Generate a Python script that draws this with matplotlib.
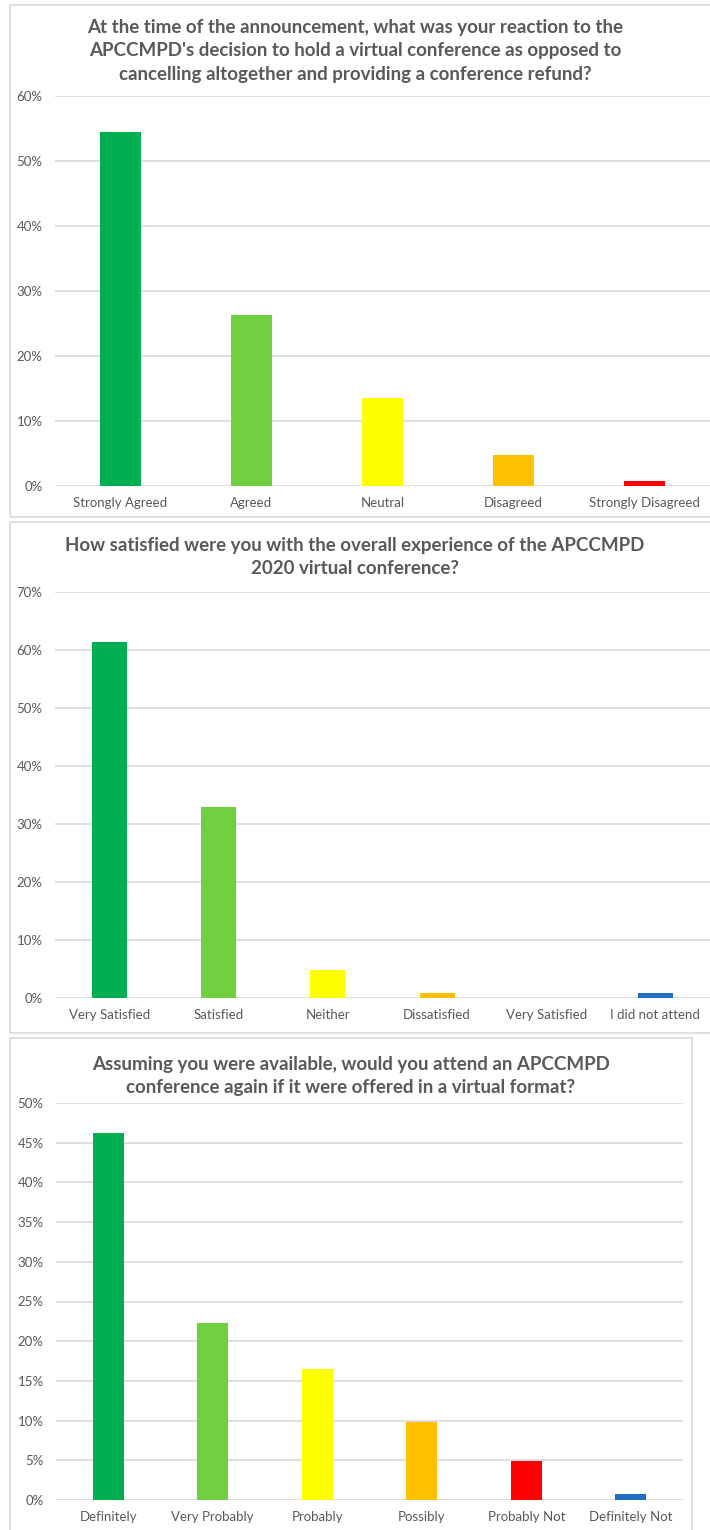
import matplotlib
matplotlib.use("Agg")
import matplotlib.pyplot as plt
from matplotlib.patches import Rectangle
from matplotlib.ticker import FuncFormatter, MultipleLocator

# survey answers (share of respondents, %)
q1_title = ("At the time of the announcement, what was your reaction to the\n"
            "APCCMPD's decision to hold a virtual conference as opposed to\n"
            "cancelling altogether and providing a conference refund?")
q1_labels = ["Strongly Agreed", "Agreed", "Neutral", "Disagreed", "Strongly Disagreed"]
q1_values = [54.5, 26.3, 13.5, 4.7, 0.8]
q1_colors = ["#00B050", "#70D040", "#FFFF00", "#FFC000", "#FF0000"]

q2_title = ("How satisfied were you with the overall experience of the APCCMPD\n"
            "2020 virtual conference?")
q2_labels = ["Very Satisfied", "Satisfied", "Neither", "Dissatisfied", "Very Satisfied",
             "I did not attend"]
q2_values = [61.3, 33.0, 4.8, 0.8, 0.0, 0.8]
q2_colors = ["#00B050", "#70D040", "#FFFF00", "#FFC000", "#FF0000", "#1F6FC6"]

q3_title = ("Assuming you were available, would you attend an APCCMPD\n"
            "conference again if it were offered in a virtual format?")
q3_labels = ["Definitely", "Very Probably", "Probably", "Possibly", "Probably Not",
             "Definitely Not"]
q3_values = [46.2, 22.3, 16.5, 9.8, 4.9, 0.8]
q3_colors = ["#00B050", "#70D040", "#FFFF00", "#FFC000", "#FF0000", "#1F6FC6"]

plt.rcParams['font.family'] = ['Lato', 'DejaVu Sans']

W, H = 710, 1530
fig = plt.figure(figsize=(W / 100, H / 100), dpi=100)
fig.patch.set_facecolor("white")

GRID = "#D9D9D9"
TXT = "#595959"


def px_box(x0, y0, x1, y1):
    # pixel coords (top-left origin) -> figure fraction rect
    return [x0 / W, 1 - y1 / H, (x1 - x0) / W, (y1 - y0) / H]


def panel(box, ax_px, title, title_y, labels, values, colors, ymax, step, barw):
    bx0, by0, bx1, by1 = box
    fig.patches.append(Rectangle((bx0 / W, 1 - by1 / H), (bx1 - bx0) / W, (by1 - by0) / H,
                                 transform=fig.transFigure, facecolor="none",
                                 edgecolor=GRID, linewidth=1.2, zorder=0))
    ax = fig.add_axes(px_box(*ax_px))
    ax.set_facecolor("none")
    x = range(len(labels))
    ax.bar(x, values, width=barw, color=colors, zorder=3)
    ax.set_xlim(-0.5, len(labels) - 0.5)
    ax.set_ylim(0, ymax)
    ax.yaxis.set_major_locator(MultipleLocator(step))
    ax.yaxis.set_major_formatter(FuncFormatter(lambda v, p: "%d%%" % round(v)))
    ax.grid(axis="y", color=GRID, linewidth=1.2, zorder=0)
    for s in ax.spines.values():
        s.set_visible(False)
    ax.tick_params(axis="both", length=0, colors=TXT, labelsize=9.5)
    ax.tick_params(axis="y", pad=9)
    ax.tick_params(axis="x", pad=8)
    ax.set_xticks(list(x))
    ax.set_xticklabels(labels)
    cx = (bx0 + bx1) / 2 if bx1 < 700 else 355
    fig.text(cx / W, 1 - title_y / H, title,
             ha="center", va="top", fontsize=13.5, fontweight="bold", color=TXT,
             linespacing=1.45)
    return ax


panel((10, 5, 712, 517), (55, 96, 710, 486), q1_title, 19,
      q1_labels, q1_values, q1_colors, 60, 10, 0.31)
panel((10, 522, 712, 1033), (55, 592, 710, 998), q2_title, 537,
      q2_labels, q2_values, q2_colors, 70, 10, 0.32)
panel((10, 1038, 692, 1535), (56, 1103, 683, 1500), q3_title, 1056,
      q3_labels, q3_values, q3_colors, 50, 5, 0.30)

fig.savefig("out.png", dpi=100, facecolor="white")
